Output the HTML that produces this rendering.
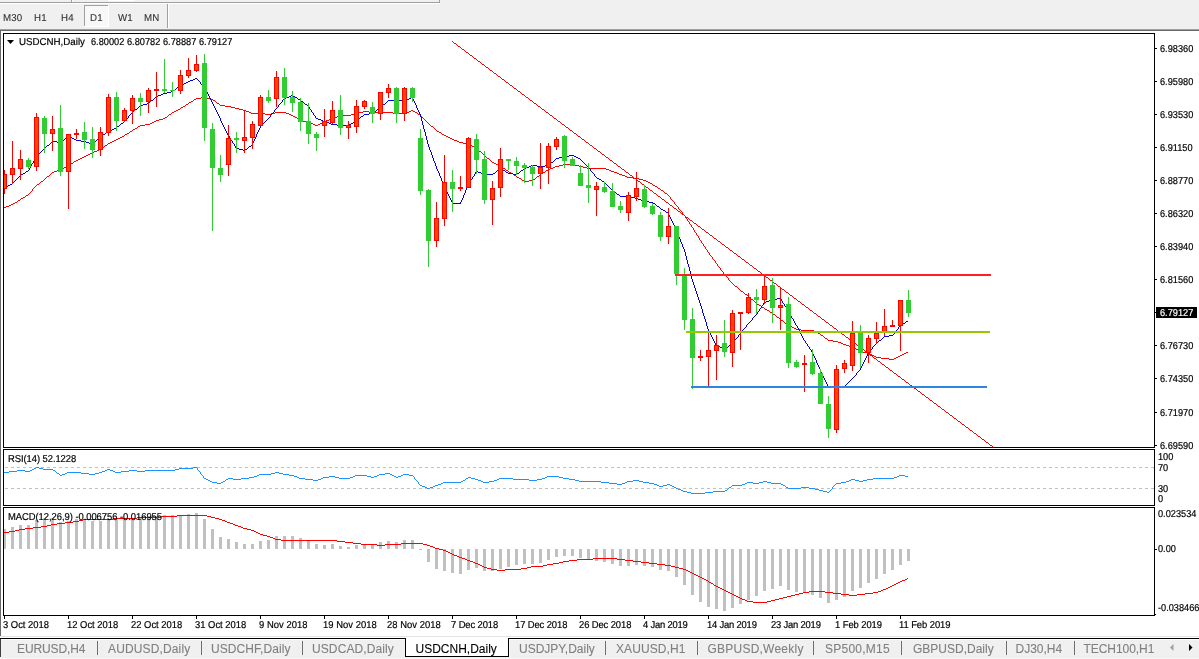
<!DOCTYPE html>
<html><head><meta charset="utf-8"><title>USDCNH,Daily</title>
<style>
html,body{margin:0;padding:0;background:#f0f0f0;}
body{width:1199px;height:659px;position:relative;overflow:hidden;font-family:"Liberation Sans",sans-serif;}
svg{position:absolute;left:0;top:0;display:block;}
.t{position:absolute;white-space:nowrap;-webkit-text-stroke:0.2px currentColor;}
</style></head><body>
<svg width="1199" height="659" viewBox="0 0 1199 659">
<rect x="0" y="0" width="1199" height="659" fill="#f0f0f0"/>
<rect x="0" y="2" width="440" height="1" fill="#a0a0a0"/>
<rect x="0" y="3" width="440" height="1" fill="#ffffff"/>
<rect x="71" y="0" width="1" height="2" fill="#a0a0a0"/><rect x="72" y="0" width="1" height="2" fill="#fff"/>
<rect x="439" y="0" width="1" height="3" fill="#a0a0a0"/>
<rect x="108" y="0" width="27" height="1" fill="#fff"/>
<rect x="84" y="5" width="25" height="22" fill="#f8f8f8"/>
<rect x="84" y="5" width="25" height="1" fill="#a0a0a0"/><rect x="84" y="5" width="1" height="22" fill="#a0a0a0"/>
<rect x="84" y="26" width="25" height="1" fill="#fff"/><rect x="108" y="5" width="1" height="22" fill="#fff"/>
<rect x="167" y="4" width="1" height="24" fill="#a0a0a0"/><rect x="168" y="4" width="1" height="24" fill="#fff"/>
<rect x="0" y="29" width="1199" height="1" fill="#a0a0a0"/>
<rect x="0" y="30" width="1199" height="1" fill="#696969"/>
<rect x="0" y="31" width="1199" height="606" fill="#ffffff"/>
<rect x="0" y="30" width="1" height="607" fill="#696969"/>
<rect x="0" y="636" width="1199" height="1" fill="#e3e3e3"/>
<rect x="0" y="637" width="1199" height="1" fill="#ffffff"/>
<rect x="1" y="639" width="1198" height="1" fill="#ffffff"/>
<rect x="0" y="658" width="1199" height="1" fill="#f7f7f7"/>
<rect x="0" y="638" width="1199" height="1" fill="#000"/>
<rect x="0" y="639" width="1" height="18" fill="#404040"/>
<rect x="405" y="637" width="104" height="20" fill="#fff"/><rect x="509" y="639" width="1" height="18" fill="#fafafa"/>
<rect x="405" y="638" width="1" height="19" fill="#000"/><rect x="508" y="638" width="1" height="19" fill="#000"/><rect x="405" y="656" width="104" height="1" fill="#000"/>
<rect x="97" y="641" width="1" height="14" fill="#6e6e6e"/>
<rect x="201" y="641" width="1" height="14" fill="#6e6e6e"/>
<rect x="302" y="641" width="1" height="14" fill="#6e6e6e"/>
<rect x="605" y="641" width="1" height="14" fill="#6e6e6e"/>
<rect x="697" y="641" width="1" height="14" fill="#6e6e6e"/>
<rect x="813" y="641" width="1" height="14" fill="#6e6e6e"/>
<rect x="901" y="641" width="1" height="14" fill="#6e6e6e"/>
<rect x="1006" y="641" width="1" height="14" fill="#6e6e6e"/>
<rect x="1074" y="641" width="1" height="14" fill="#6e6e6e"/>
<path d="M1170 647.5 L1173.5 644 L1173.5 651 Z" fill="#a0a0a0"/>
<path d="M1192.5 647.5 L1189 644 L1189 651 Z" fill="#000"/>
<rect x="3" y="33" width="1152" height="1" fill="#000"/>
<rect x="3" y="447" width="1152" height="1" fill="#000"/>
<rect x="3" y="33" width="1" height="415" fill="#000"/>
<rect x="1154" y="33" width="1" height="415" fill="#000"/>
<rect x="3" y="449" width="1152" height="1" fill="#000"/>
<rect x="3" y="505" width="1152" height="1" fill="#000"/>
<rect x="3" y="449" width="1" height="57" fill="#000"/>
<rect x="1154" y="449" width="1" height="57" fill="#000"/>
<rect x="3" y="507" width="1152" height="1" fill="#000"/>
<rect x="3" y="615" width="1152" height="1" fill="#000"/>
<rect x="3" y="507" width="1" height="109" fill="#000"/>
<rect x="1154" y="507" width="1" height="109" fill="#000"/>
<rect x="1155" y="48" width="2" height="1" fill="#000"/>
<rect x="1155" y="81" width="2" height="1" fill="#000"/>
<rect x="1155" y="114" width="2" height="1" fill="#000"/>
<rect x="1155" y="147" width="2" height="1" fill="#000"/>
<rect x="1155" y="180" width="2" height="1" fill="#000"/>
<rect x="1155" y="213" width="2" height="1" fill="#000"/>
<rect x="1155" y="246" width="2" height="1" fill="#000"/>
<rect x="1155" y="279" width="2" height="1" fill="#000"/>
<rect x="1155" y="312" width="2" height="1" fill="#000"/>
<rect x="1155" y="345" width="2" height="1" fill="#000"/>
<rect x="1155" y="378" width="2" height="1" fill="#000"/>
<rect x="1155" y="412" width="2" height="1" fill="#000"/>
<rect x="1155" y="445" width="2" height="1" fill="#000"/>
<rect x="1155" y="549" width="2" height="1" fill="#000"/>
<rect x="1155" y="614" width="1" height="1" fill="#000"/>
<rect x="1156" y="307" width="41" height="11" fill="#000"/>
<rect x="4" y="615" width="1" height="4" fill="#000"/>
<rect x="68" y="615" width="1" height="4" fill="#000"/>
<rect x="132" y="615" width="1" height="4" fill="#000"/>
<rect x="196" y="615" width="1" height="4" fill="#000"/>
<rect x="260" y="615" width="1" height="4" fill="#000"/>
<rect x="324" y="615" width="1" height="4" fill="#000"/>
<rect x="388" y="615" width="1" height="4" fill="#000"/>
<rect x="452" y="615" width="1" height="4" fill="#000"/>
<rect x="516" y="615" width="1" height="4" fill="#000"/>
<rect x="580" y="615" width="1" height="4" fill="#000"/>
<rect x="644" y="615" width="1" height="4" fill="#000"/>
<rect x="708" y="615" width="1" height="4" fill="#000"/>
<rect x="772" y="615" width="1" height="4" fill="#000"/>
<rect x="836" y="615" width="1" height="4" fill="#000"/>
<rect x="900" y="615" width="1" height="4" fill="#000"/>
<defs><clipPath id="cm"><rect x="4" y="34" width="1150" height="413"/></clipPath><clipPath id="cr"><rect x="4" y="450" width="1150" height="55"/></clipPath><clipPath id="cd"><rect x="4" y="508" width="1150" height="107"/></clipPath></defs>
<g clip-path="url(#cm)" shape-rendering="crispEdges">
<path d="M860 351.5h3M74 161.5h2M851 347.5h3M251 113.5h14M271 113.5h4M286 113.5h3M355 113.5h4M393 113.5h13M159 119.5h4M298 119.5h2M329 119.5h2M522 180.5h2M529 180.5h4M643 180.5h3M140 125.5h5M315 125.5h3M194 99.5h2M211 99.5h2M777 317.5h2M881 358.5h8M894 358.5h2M69 164.5h2M496 164.5h2M563 164.5h12M172 112.5h2M249 112.5h2M275 112.5h11M359 112.5h4M369 112.5h24M406 112.5h3M415 112.5h2M152 122.5h2M307 122.5h3M322 122.5h2M97 150.5h2M856 349.5h2M846 345.5h3M174 111.5h2M246 111.5h3M363 111.5h6M409 111.5h2M413 111.5h2M169 114.5h2M265 114.5h6M289 114.5h2M351 114.5h4M418 114.5h2M114 140.5h2M454 140.5h3M519 178.5h2M633 178.5h6M94 151.5h3M479 151.5h2M439 132.5h2M828 340.5h5M492 162.5h2M52 172.5h2M509 172.5h2M543 172.5h2M614 172.5h3M127 133.5h2M4 207.5h2M156 120.5h3M300 120.5h3M326 120.5h3M150 123.5h2M310 123.5h3M320 123.5h2M176 110.5h2M243 110.5h3M411 110.5h2M867 353.5h3M904 353.5h2M66 166.5h2M555 166.5h4M579 166.5h4M661 190.5h2M120 137.5h2M448 137.5h2M874 356.5h2M898 356.5h2M59 169.5h3M548 169.5h2M606 169.5h3M133 129.5h2M794 328.5h2M125 134.5h2M442 134.5h2M71 163.5h2M494 163.5h2M64 167.5h2M501 167.5h2M553 167.5h2M583 167.5h4M62 168.5h2M503 168.5h2M550 168.5h3M587 168.5h19M130 131.5h2M437 131.5h2M796 329.5h5M788 325.5h2M293 116.5h2M337 116.5h2M181 107.5h2M231 107.5h4M110 142.5h2M459 142.5h4M21 198.5h2M108 143.5h2M463 143.5h4M41 181.5h2M524 181.5h5M646 181.5h2M517 177.5h2M627 177.5h6M790 326.5h2M235 108.5h4M833 341.5h5M751 299.5h2M773 314.5h2M792 327.5h2M90 153.5h2M498 165.5h2M559 165.5h4M575 165.5h4M6 206.5h3M201 97.5h6M876 357.5h5M896 357.5h2M765 309.5h2M291 115.5h2M339 115.5h12M511 173.5h2M541 173.5h2M617 173.5h2M533 179.5h2M639 179.5h4M514 175.5h2M622 175.5h3M650 183.5h2M821 335.5h2M472 146.5h2M57 170.5h2M506 170.5h2M546 170.5h2M609 170.5h2M872 355.5h2M900 355.5h2M116 139.5h2M452 139.5h2M54 171.5h3M611 171.5h3M47 176.5h2M537 176.5h2M625 176.5h2M474 147.5h2M112 141.5h2M457 141.5h2M13 203.5h2M80 158.5h2M487 158.5h2M101 148.5h2M178 109.5h2M239 109.5h4M220 105.5h5M154 121.5h2M303 121.5h4M324 121.5h2M467 144.5h3M135 128.5h2M165 117.5h2M295 117.5h2M334 117.5h3M78 159.5h2M26 195.5h2M18 200.5h2M105 145.5h2M470 145.5h2M801 330.5h13M145 124.5h5M313 124.5h2M318 124.5h2M658 188.5h2M23 197.5h2M86 155.5h2M653 185.5h2M196 98.5h5M207 98.5h4M619 174.5h3M735 286.5h2M655 186.5h2M757 304.5h2M767 310.5h2M889 359.5h5M15 202.5h2M816 332.5h2M11 204.5h2M191 101.5h2M843 344.5h3M138 126.5h2M431 126.5h2M213 100.5h2M189 102.5h2M92 152.5h2M665 193.5h2M745 294.5h2M838 342.5h3M759 305.5h2M854 348.5h2M741 291.5h2M118 138.5h2M450 138.5h2M858 350.5h2M849 346.5h2M88 154.5h2M183 106.5h2M225 106.5h6M444 135.5h2M122 136.5h2M446 136.5h2M76 160.5h2M863 352.5h4M906 352.5h2M99 149.5h2M163 118.5h2M331 118.5h3M37 184.5h2M84 156.5h2M770 312.5h2M186 104.5h2M825 338.5h2M870 354.5h2M902 354.5h2M82 157.5h2M9 205.5h2M648 182.5h2M762 307.5h2M785 323.5h2M217 103.5h2M814 331.5h2M818 333.5h2M781 320.5h2M841 343.5h2M491.5 161v1M689.5 222v2M697.5 235v1M171.5 113v1M417.5 113v1M424.5 119v1M43.5 180v1M430.5 125v1M25.5 196v1M669.5 196v1M427.5 122v1M740.5 290v1M478.5 150v1M45.5 178v1M535.5 178v1M129.5 132v1M73.5 162v1M441.5 133v1M729.5 280v1M678.5 207v2M425.5 120v1M699.5 238v2M428.5 123v1M500.5 166v1M32.5 189v2M505.5 169v1M31.5 191v1M663.5 191v1M692.5 227v1M700.5 240v1M703.5 244v2M132.5 130v1M436.5 130v1M435.5 129v1M714.5 260v1M696.5 233v2M17.5 201v1M673.5 201v1M717.5 264v2M167.5 116v1M421.5 116v1M739.5 289v1M718.5 266v1M750.5 298v1M670.5 197v2M728.5 278v2M46.5 177v1M536.5 177v1M180.5 108v1M482.5 153v1M68.5 165v1M677.5 206v1M168.5 115v1M420.5 115v1M51.5 173v1M695.5 232v1M44.5 179v1M521.5 179v1M49.5 175v1M539.5 175v1M39.5 183v1M104.5 146v1M508.5 171v1M545.5 171v1M691.5 225v2M707.5 250v2M516.5 176v1M103.5 147v1M660.5 189v1M674.5 202v2M476.5 148v1M185.5 105v1M426.5 121v1M107.5 144v1M434.5 128v1M422.5 117v1M489.5 159v1M668.5 195v1M769.5 311v1M672.5 200v1M429.5 124v1M33.5 188v1M484.5 155v1M764.5 308v1M783.5 321v1M36.5 185v1M784.5 322v1M50.5 174v1M513.5 174v1M540.5 174v1M698.5 236v2M35.5 186v1M720.5 268v2M721.5 270v1M761.5 306v1M727.5 277v1M679.5 209v1M675.5 204v1M680.5 210v1M215.5 101v1M701.5 241v2M193.5 100v1M216.5 102v1M702.5 243v1M481.5 152v1M705.5 247v2M29.5 193v1M719.5 267v1M779.5 318v1M756.5 303v1M693.5 228v2M709.5 253v2M483.5 154v1M124.5 135v1M490.5 160v1M730.5 281v1M477.5 149v1M34.5 187v1M657.5 187v1M682.5 212v2M30.5 192v1M664.5 192v1M297.5 118v1M423.5 118v1M683.5 214v1M652.5 184v1M704.5 246v1M775.5 315v1M708.5 252v1M485.5 156v1M20.5 199v1M671.5 199v1M219.5 104v1M723.5 272v2M827.5 339v1M486.5 157v1M676.5 205v1M40.5 182v1M737.5 287v1M722.5 271v1M137.5 127v1M433.5 127v1M188.5 103v1M823.5 336v1M711.5 256v1M681.5 211v1M732.5 283v1M685.5 216v2M706.5 249v1M28.5 194v1M667.5 194v1M733.5 284v1M747.5 295v1M710.5 255v1M780.5 319v1M724.5 274v1M725.5 275v1M731.5 282v1M743.5 292v1M684.5 215v1M776.5 316v1M753.5 300v1M754.5 301v1M687.5 219v2M688.5 221v1M712.5 257v2M824.5 337v1M713.5 259v1M738.5 288v1M772.5 313v1M686.5 218v1M694.5 230v2M787.5 324v1M749.5 297v1M820.5 334v1M690.5 224v1M734.5 285v1M715.5 261v2M748.5 296v1M716.5 263v1M744.5 293v1M726.5 276v1M755.5 302v1" fill="none" stroke="#ff0000" stroke-width="1"/>
<path d="M286 97.5h3M295 97.5h2M411 97.5h2M369 113.5h4M777 298.5h4M10 184.5h2M563 156.5h6M574 156.5h2M171 91.5h2M91 144.5h2M147 103.5h2M901 324.5h2M298 99.5h2M406 99.5h3M101 135.5h2M559 157.5h4M576 157.5h2M478 172.5h3M506 172.5h2M331 124.5h6M349 124.5h2M167 92.5h4M321 120.5h2M884 336.5h5M57 142.5h4M86 142.5h3M21 174.5h2M483 174.5h10M513 174.5h4M620 196.5h11M452 203.5h9M653 203.5h2M337 125.5h12M156 96.5h2M289 96.5h2M293 96.5h2M23 173.5h2M481 173.5h2M493 173.5h2M508 173.5h5M517 173.5h2M323 121.5h3M354 121.5h2M769 300.5h2M284 98.5h2M409 98.5h2M641 200.5h2M720 347.5h2M117 126.5h2M906 321.5h2M65 138.5h2M72 138.5h2M599 179.5h2M186 82.5h2M76 140.5h5M602 181.5h2M364 114.5h5M531 165.5h6M545 165.5h4M361 116.5h2M26 171.5h2M476 171.5h2M529 166.5h2M537 166.5h8M828 386.5h5M841 386.5h4M613 191.5h2M657 206.5h2M108 131.5h2M52 141.5h5M61 141.5h2M81 141.5h5M121 123.5h2M329 123.5h2M351 123.5h2M569 155.5h5M597 178.5h2M173 90.5h2M8 185.5h2M718 346.5h2M163 93.5h4M903 323.5h2M103 134.5h2M722 348.5h2M725 348.5h2M551 162.5h2M249 146.5h2M318 119.5h3M357 119.5h2M879 340.5h2M316 118.5h2M497 170.5h2M503 170.5h2M521 170.5h2M140 105.5h3M158 95.5h3M291 95.5h2M643 201.5h6M6 186.5h2M373 112.5h2M766 301.5h3M771 299.5h6M182 84.5h2M526 167.5h3M239 149.5h4M245 149.5h2M501 169.5h2M326 122.5h3M556 158.5h3M578 158.5h2M524 168.5h2M833 387.5h8M301 101.5h2M193 79.5h2M143 104.5h4M305 104.5h2M383 104.5h2M4 187.5h2M151 100.5h2M388 100.5h18M47 145.5h2M89 143.5h2M889 335.5h4M631 197.5h4M70 137.5h2M716 345.5h2M729 345.5h2M161 94.5h2M236 148.5h3M135 109.5h2M377 109.5h2M649 202.5h4M74 139.5h2M177 87.5h2M638 199.5h3M243 150.5h2M764 302.5h2M661 209.5h2M195 78.5h2M112 129.5h2M663 210.5h2M190 80.5h3M68 136.5h2M114 128.5h2M184 83.5h2M110 130.5h2M106 132.5h2M635 198.5h3M188 81.5h2M666 212.5h2M617 194.5h2M180 85.5h2M155.5 97v1M209.5 96v2M131.5 113v1M217.5 112v2M272.5 113v1M313.5 113v2M419.5 112v2M698.5 297v3M820.5 369v3M860.5 368v2M45.5 147v1M235.5 146v2M248.5 147v1M429.5 147v3M670.5 217v2M443.5 183v2M468.5 184v2M606.5 184v1M708.5 329v2M743.5 329v1M798.5 328v2M897.5 329v1M36.5 156v1M432.5 155v3M206.5 90v2M707.5 326v3M744.5 328v1M898.5 327v2M814.5 356v2M866.5 356v2M691.5 275v4M49.5 144v1M234.5 144v2M252.5 143v2M428.5 144v3M701.5 306v3M760.5 308v1M786.5 307v2M212.5 102v2M280.5 103v1M304.5 103v1M385.5 103v1M415.5 103v2M706.5 322v4M747.5 324v1M795.5 323v2M153.5 99v1M210.5 98v2M283.5 99v1M413.5 99v2M228.5 135v1M256.5 134v3M425.5 132v4M35.5 157v2M25.5 172v1M438.5 171v2M475.5 172v2M495.5 172v1M519.5 172v1M592.5 172v1M811.5 350v2M870.5 350v1M120.5 124v1M222.5 123v2M262.5 124v1M422.5 121v4M822.5 374v2M855.5 375v1M715.5 343v2M731.5 344v1M807.5 344v2M875.5 344v1M207.5 92v2M824.5 378v2M852.5 378v1M125.5 120v1M220.5 118v3M266.5 120v1M356.5 120v1M421.5 117v4M711.5 335v2M738.5 335v2M802.5 336v2M702.5 309v4M759.5 309v2M787.5 309v2M51.5 142v1M94.5 142v1M232.5 141v2M253.5 141v2M427.5 140v4M714.5 341v2M734.5 340v2M805.5 341v2M878.5 341v1M439.5 173v3M474.5 174v2M594.5 174v2M449.5 196v2M463.5 195v3M746.5 325v2M796.5 325v1M900.5 325v1M119.5 125v1M223.5 125v2M261.5 125v1M423.5 125v4M593.5 173v1M694.5 285v3M124.5 121v1M221.5 121v2M265.5 121v1M699.5 300v3M781.5 299v2M703.5 313v3M757.5 312v2M789.5 312v2M154.5 98v1M297.5 98v1M412.5 98v1M451.5 200v2M461.5 200v2M727.5 347v1M809.5 347v2M872.5 347v2M260.5 126v2M705.5 319v3M750.5 321v1M794.5 321v2M821.5 372v2M857.5 372v1M34.5 159v2M433.5 158v3M554.5 160v1M581.5 160v1M98.5 138v1M230.5 138v2M255.5 137v2M426.5 136v4M16.5 179v1M441.5 178v3M471.5 179v1M688.5 264v3M137.5 108v1M215.5 108v2M276.5 108v1M309.5 107v2M379.5 108v1M417.5 108v2M200.5 82v2M133.5 111v1M216.5 110v2M274.5 110v2M311.5 110v2M375.5 111v1M418.5 110v2M20.5 175v1M63.5 140v1M96.5 140v1M231.5 140v1M254.5 139v2M14.5 181v1M442.5 181v2M470.5 180v2M130.5 114v1M218.5 114v2M271.5 114v1M420.5 114v3M31.5 164v2M435.5 163v3M586.5 165v1M128.5 116v2M219.5 116v2M270.5 115v2M315.5 116v2M32.5 163v1M550.5 163v1M584.5 163v1M684.5 249v3M496.5 171v1M505.5 171v1M520.5 171v1M591.5 171v1M709.5 331v2M742.5 330v2M799.5 330v2M895.5 331v1M30.5 166v2M436.5 166v3M587.5 166v1M446.5 190v2M465.5 190v3M149.5 102v1M281.5 102v1M303.5 102v1M386.5 102v1M414.5 101v2M13.5 182v1M469.5 182v2M604.5 182v1M687.5 260v4M226.5 131v2M258.5 130v2M424.5 129v3M95.5 141v1M758.5 311v1M788.5 311v1M724.5 349v1M810.5 349v1M871.5 349v1M659.5 207v1M896.5 330v1M680.5 239v3M263.5 123v1M12.5 183v1M605.5 183v1M549.5 164v1M585.5 164v1M37.5 155v1M17.5 178v1M472.5 177v2M700.5 303v3M762.5 305v1M784.5 304v2M139.5 106v1M214.5 106v2M278.5 105v2M308.5 106v1M381.5 106v1M416.5 105v3M444.5 185v3M607.5 185v1M728.5 346v1M808.5 346v1M873.5 346v1M704.5 316v3M752.5 318v2M792.5 318v1M761.5 306v2M748.5 323v1M227.5 133v2M753.5 317v1M791.5 316v2M33.5 161v2M434.5 161v2M583.5 162v1M46.5 146v1M40.5 152v1M431.5 152v3M785.5 306v1M126.5 119v1M267.5 119v1M713.5 339v2M804.5 340v1M127.5 118v1M268.5 118v1M359.5 118v1M28.5 170v1M437.5 169v2M590.5 169v2M213.5 104v2M307.5 105v1M382.5 105v1M208.5 94v2M467.5 186v2M608.5 186v1M132.5 112v1M273.5 112v1M312.5 112v1M782.5 301v2M825.5 380v2M850.5 380v1M201.5 84v1M588.5 167v1M672.5 221v2M697.5 294v3M175.5 89v1M205.5 88v2M43.5 149v1M669.5 215v2M29.5 168v2M499.5 169v1M523.5 169v1M179.5 86v1M203.5 86v1M813.5 354v2M867.5 354v2M123.5 122v1M264.5 122v1M353.5 122v1M690.5 271v4M447.5 192v2M615.5 192v1M500.5 168v1M589.5 168v1M105.5 133v1M257.5 132v2M686.5 256v4M553.5 161v1M582.5 161v1M679.5 237v2M150.5 101v1M211.5 100v2M282.5 100v2M387.5 101v1M197.5 79v1M279.5 104v1M39.5 153v1M763.5 303v2M783.5 303v1M754.5 316v1M609.5 187v1M300.5 100v1M251.5 145v1M859.5 370v1M693.5 282v3M50.5 143v1M93.5 143v1M233.5 143v1M116.5 127v1M224.5 127v2M801.5 334v2M683.5 247v2M755.5 315v1M790.5 314v2M269.5 117v1M360.5 117v1M18.5 177v1M440.5 176v2M596.5 177v1M15.5 180v1M601.5 180v1M710.5 333v2M740.5 333v1M800.5 332v2M894.5 332v2M67.5 137v1M99.5 137v1M229.5 136v2M812.5 352v2M868.5 352v2M874.5 345v1M823.5 376v2M854.5 376v1M797.5 326v2M899.5 326v1M44.5 148v1M247.5 148v1M827.5 384v2M845.5 385v1M275.5 109v1M310.5 109v1M678.5 234v3M676.5 229v3M176.5 88v1M689.5 267v4M745.5 327v1M452.5 202v1M460.5 202v1M815.5 358v2M865.5 358v2M682.5 244v3M741.5 332v1M733.5 342v1M877.5 342v1M735.5 339v1M803.5 338v2M881.5 339v1M134.5 110v1M376.5 110v1M129.5 115v1M314.5 115v1M363.5 115v1M19.5 176v1M473.5 176v1M595.5 176v1M668.5 213v2M696.5 291v3M64.5 139v1M97.5 139v1M712.5 337v2M736.5 338v1M882.5 338v1M464.5 193v2M616.5 193v1M204.5 87v1M450.5 198v2M462.5 198v2M42.5 150v1M430.5 150v2M756.5 314v1M749.5 322v1M905.5 322v1M869.5 351v1M41.5 151v1M819.5 367v2M448.5 194v2M619.5 195v1M816.5 360v3M863.5 362v2M793.5 319v2M225.5 129v2M259.5 128v2M660.5 208v1M864.5 360v2M849.5 381v1M445.5 188v2M466.5 188v2M611.5 189v1M692.5 279v3M675.5 227v2M198.5 80v1M861.5 366v2M555.5 159v1M580.5 159v1M739.5 334v1M893.5 334v1M100.5 136v1M677.5 232v2M685.5 252v4M610.5 188v1M818.5 365v2M737.5 337v1M883.5 337v1M138.5 107v1M277.5 107v1M380.5 107v1M732.5 343v1M806.5 343v1M876.5 343v1M674.5 225v2M826.5 382v2M847.5 383v1M656.5 205v1M695.5 288v3M856.5 373v2M655.5 204v1M817.5 363v2M862.5 364v2M751.5 320v1M681.5 242v2M199.5 81v1M665.5 211v1M673.5 223v2M851.5 379v1M612.5 190v1M202.5 85v1M846.5 384v1M858.5 371v1M38.5 154v1M853.5 377v1M848.5 382v1M671.5 219v2" fill="none" stroke="#0000dd" stroke-width="1"/>
<path d="M730 250.5h2M558 121.5h2M570 130.5h2M982 439.5h2M934 403.5h2M762 274.5h2M774 283.5h2M602 154.5h2M978 436.5h2M806 307.5h2M826 322.5h2M838 331.5h2M618 166.5h2M870 355.5h2M822 319.5h2M650 190.5h2M918 391.5h2M930 400.5h2M710 235.5h2M538 106.5h2M962 424.5h2M458 46.5h2M882 364.5h2M662 199.5h2M490 70.5h2M502 79.5h2M726 247.5h2M554 118.5h2M566 127.5h2M758 271.5h2M770 280.5h2M598 151.5h2M550 115.5h2M802 304.5h2M974 433.5h2M614 163.5h2M454 43.5h2M866 352.5h2M818 316.5h2M646 187.5h2M658 196.5h2M486 67.5h2M850 340.5h2M862 349.5h2M690 220.5h2M914 388.5h2M926 397.5h2M754 268.5h2M706 232.5h2M534 103.5h2M958 421.5h2M738 256.5h2M750 265.5h2M814 313.5h2M498 76.5h2M846 337.5h2M766 277.5h2M594 148.5h2M546 112.5h2M798 301.5h2M970 430.5h2M578 136.5h2M590 145.5h2M642 184.5h2M654 193.5h2M482 64.5h2M686 217.5h2M858 346.5h2M466 52.5h2M478 61.5h2M890 370.5h2M702 229.5h2M530 100.5h2M542 109.5h2M954 418.5h2M966 427.5h2M906 382.5h2M734 253.5h2M746 262.5h2M574 133.5h2M950 415.5h2M778 286.5h2M810 310.5h2M842 334.5h2M854 343.5h2M526 97.5h2M794 298.5h2M634 178.5h2M938 406.5h2M666 202.5h2M698 226.5h2M902 379.5h2M586 142.5h2M790 295.5h2M682 214.5h2M694 223.5h2M462 49.5h2M474 58.5h2M886 367.5h2M994 448.5h2M678 211.5h2M506 82.5h2M742 259.5h2M582 139.5h2M522 94.5h2M946 412.5h2M786 292.5h2M630 175.5h2M834 328.5h2M674 208.5h2M878 361.5h2M898 376.5h2M518 91.5h2M942 409.5h2M722 244.5h2M470 55.5h2M990 445.5h2M610 160.5h2M782 289.5h2M562 124.5h2M910 385.5h2M626 172.5h2M830 325.5h2M670 205.5h2M874 358.5h2M894 373.5h2M494 73.5h2M514 88.5h2M718 241.5h2M922 394.5h2M986 442.5h2M606 157.5h2M638 181.5h2M510 85.5h2M714 238.5h2M622 169.5h2M589.5 144v1M496.5 74v1M920.5 392v1M793.5 297v1M700.5 227v1M477.5 60v1M540.5 107v1M744.5 260v1M541.5 108v1M745.5 261v1M808.5 308v1M648.5 188v1M588.5 143v1M885.5 366v1M632.5 176v1M652.5 191v1M856.5 344v1M633.5 177v1M696.5 224v1M473.5 57v1M476.5 59v1M837.5 330v1M900.5 377v1M520.5 92v1M901.5 378v1M964.5 425v1M681.5 213v1M521.5 93v1M584.5 140v1M945.5 411v1M725.5 246v1M788.5 293v1M565.5 126v1M789.5 294v1M852.5 341v1M536.5 104v1M993.5 447v1M833.5 327v1M740.5 257v1M613.5 162v1M804.5 305v1M677.5 210v1M881.5 363v1M944.5 410v1M628.5 173v1M692.5 221v1M989.5 444v1M472.5 56v1M673.5 207v1M896.5 374v1M769.5 279v1M736.5 254v1M453.5 42v1M516.5 89v1M517.5 90v1M580.5 137v1M941.5 408v1M721.5 243v1M784.5 290v1M561.5 123v1M925.5 396v1M988.5 443v1M765.5 276v1M785.5 291v1M828.5 323v1M468.5 53v1M829.5 324v1M892.5 371v1M609.5 159v1M672.5 206v1M876.5 359v1M653.5 192v1M877.5 360v1M940.5 407v1M717.5 240v1M624.5 170v1M497.5 75v1M921.5 393v1M764.5 275v1M669.5 204v1M732.5 251v1M512.5 86v1M969.5 429v1M809.5 309v1M716.5 239v1M780.5 287v1M557.5 120v1M620.5 167v1M560.5 122v1M984.5 440v1M761.5 273v1M824.5 320v1M604.5 155v1M605.5 156v1M668.5 203v1M872.5 356v1M649.5 189v1M712.5 236v1M492.5 71v1M853.5 342v1M916.5 389v1M936.5 404v1M493.5 72v1M556.5 119v1M917.5 390v1M980.5 437v1M757.5 270v1M697.5 225v1M760.5 272v1M537.5 105v1M741.5 258v1M508.5 83v1M965.5 426v1M932.5 401v1M805.5 306v1M585.5 141v1M552.5 116v1M629.5 174v1M820.5 317v1M693.5 222v1M600.5 152v1M897.5 375v1M644.5 185v1M664.5 200v1M961.5 423v1M868.5 353v1M645.5 186v1M708.5 233v1M488.5 68v1M849.5 339v1M912.5 386v1M469.5 54v1M489.5 69v1M532.5 101v1M913.5 387v1M976.5 434v1M756.5 269v1M533.5 102v1M596.5 149v1M957.5 420v1M960.5 422v1M737.5 255v1M800.5 302v1M577.5 135v1M801.5 303v1M864.5 350v1M581.5 138v1M548.5 113v1M845.5 336v1M848.5 338v1M625.5 171v1M816.5 314v1M689.5 219v1M893.5 372v1M956.5 419v1M640.5 182v1M513.5 87v1M937.5 405v1M704.5 230v1M484.5 65v1M908.5 383v1M781.5 288v1M688.5 218v1M465.5 51v1M528.5 98v1M985.5 441v1M752.5 266v1M529.5 99v1M592.5 146v1M733.5 252v1M796.5 299v1M573.5 132v1M576.5 134v1M873.5 357v1M480.5 62v1M841.5 333v1M844.5 335v1M621.5 168v1M684.5 215v1M461.5 48v1M464.5 50v1M825.5 321v1M888.5 368v1M665.5 201v1M889.5 369v1M952.5 416v1M729.5 249v1M636.5 179v1M509.5 84v1M933.5 402v1M713.5 237v1M776.5 284v1M777.5 285v1M840.5 332v1M524.5 95v1M981.5 438v1M821.5 318v1M728.5 248v1M601.5 153v1M792.5 296v1M569.5 129v1M572.5 131v1M996.5 449v1M869.5 354v1M836.5 329v1M553.5 117v1M616.5 164v1M617.5 165v1M680.5 212v1M457.5 45v1M460.5 47v1M884.5 365v1M661.5 198v1M724.5 245v1M504.5 80v1M928.5 398v1M948.5 413v1M505.5 81v1M568.5 128v1M929.5 399v1M992.5 446v1M709.5 234v1M772.5 281v1M549.5 114v1M456.5 44v1M753.5 267v1M773.5 282v1M977.5 435v1M817.5 315v1M597.5 150v1M660.5 197v1M641.5 183v1M865.5 351v1M832.5 326v1M705.5 231v1M612.5 161v1M485.5 66v1M452.5 41v1M909.5 384v1M676.5 209v1M973.5 432v1M880.5 362v1M657.5 195v1M720.5 242v1M500.5 77v1M861.5 348v1M924.5 395v1M481.5 63v1M501.5 78v1M544.5 110v1M564.5 125v1M768.5 278v1M545.5 111v1M608.5 158v1M972.5 431v1M749.5 264v1M812.5 311v1M953.5 417v1M813.5 312v1M593.5 147v1M656.5 194v1M857.5 345v1M797.5 300v1M860.5 347v1M637.5 180v1M904.5 380v1M701.5 228v1M905.5 381v1M968.5 428v1M685.5 216v1M748.5 263v1M525.5 96v1M949.5 414v1" fill="none" stroke="#ff0000" stroke-width="1"/>
<rect x="4" y="170" width="1" height="24" fill="#ff0000"/>
<rect x="2" y="174" width="5" height="15" fill="#ff0000"/>
<rect x="3" y="175" width="3" height="13" fill="#ff4500"/>
<rect x="12" y="141" width="1" height="43" fill="#ff0000"/>
<rect x="10" y="168" width="5" height="7" fill="#ff0000"/>
<rect x="11" y="169" width="3" height="5" fill="#ff4500"/>
<rect x="20" y="150" width="1" height="30" fill="#ff0000"/>
<rect x="18" y="159" width="5" height="10" fill="#ff0000"/>
<rect x="19" y="160" width="3" height="8" fill="#ff4500"/>
<rect x="28" y="158" width="1" height="11" fill="#32cd32"/>
<rect x="26" y="160" width="5" height="7" fill="#32cd32"/>
<rect x="36" y="113" width="1" height="58" fill="#ff0000"/>
<rect x="34" y="117" width="5" height="50" fill="#ff0000"/>
<rect x="35" y="118" width="3" height="48" fill="#ff4500"/>
<rect x="44" y="116" width="1" height="37" fill="#32cd32"/>
<rect x="42" y="118" width="5" height="16" fill="#32cd32"/>
<rect x="52" y="116" width="1" height="35" fill="#ff0000"/>
<rect x="50" y="129" width="5" height="5" fill="#ff0000"/>
<rect x="51" y="130" width="3" height="3" fill="#ff4500"/>
<rect x="60" y="105" width="1" height="71" fill="#32cd32"/>
<rect x="58" y="128" width="5" height="44" fill="#32cd32"/>
<rect x="68" y="134" width="1" height="75" fill="#ff0000"/>
<rect x="66" y="134" width="5" height="38" fill="#ff0000"/>
<rect x="67" y="135" width="3" height="36" fill="#ff4500"/>
<rect x="76" y="129" width="1" height="10" fill="#ff0000"/>
<rect x="74" y="133" width="5" height="2" fill="#ff0000"/>
<rect x="84" y="122" width="1" height="27" fill="#32cd32"/>
<rect x="82" y="132" width="5" height="8" fill="#32cd32"/>
<rect x="92" y="127" width="1" height="31" fill="#32cd32"/>
<rect x="90" y="139" width="5" height="11" fill="#32cd32"/>
<rect x="100" y="127" width="1" height="29" fill="#ff0000"/>
<rect x="98" y="132" width="5" height="18" fill="#ff0000"/>
<rect x="99" y="133" width="3" height="16" fill="#ff4500"/>
<rect x="108" y="94" width="1" height="42" fill="#ff0000"/>
<rect x="106" y="97" width="5" height="36" fill="#ff0000"/>
<rect x="107" y="98" width="3" height="34" fill="#ff4500"/>
<rect x="116" y="92" width="1" height="39" fill="#32cd32"/>
<rect x="114" y="97" width="5" height="24" fill="#32cd32"/>
<rect x="124" y="108" width="1" height="14" fill="#ff0000"/>
<rect x="122" y="110" width="5" height="11" fill="#ff0000"/>
<rect x="123" y="111" width="3" height="9" fill="#ff4500"/>
<rect x="132" y="95" width="1" height="29" fill="#ff0000"/>
<rect x="130" y="98" width="5" height="13" fill="#ff0000"/>
<rect x="131" y="99" width="3" height="11" fill="#ff4500"/>
<rect x="140" y="93" width="1" height="23" fill="#32cd32"/>
<rect x="138" y="98" width="5" height="4" fill="#32cd32"/>
<rect x="148" y="88" width="1" height="25" fill="#ff0000"/>
<rect x="146" y="90" width="5" height="12" fill="#ff0000"/>
<rect x="147" y="91" width="3" height="10" fill="#ff4500"/>
<rect x="156" y="72" width="1" height="35" fill="#ff0000"/>
<rect x="154" y="89" width="5" height="2" fill="#ff0000"/>
<rect x="164" y="59" width="1" height="34" fill="#32cd32"/>
<rect x="162" y="89" width="5" height="2" fill="#32cd32"/>
<rect x="172" y="82" width="1" height="15" fill="#32cd32"/>
<rect x="170" y="90" width="5" height="1" fill="#32cd32"/>
<rect x="180" y="70" width="1" height="24" fill="#ff0000"/>
<rect x="178" y="75" width="5" height="16" fill="#ff0000"/>
<rect x="179" y="76" width="3" height="14" fill="#ff4500"/>
<rect x="188" y="58" width="1" height="20" fill="#ff0000"/>
<rect x="186" y="70" width="5" height="6" fill="#ff0000"/>
<rect x="187" y="71" width="3" height="4" fill="#ff4500"/>
<rect x="196" y="55" width="1" height="17" fill="#ff0000"/>
<rect x="194" y="64" width="5" height="7" fill="#ff0000"/>
<rect x="195" y="65" width="3" height="5" fill="#ff4500"/>
<rect x="204" y="54" width="1" height="87" fill="#32cd32"/>
<rect x="202" y="63" width="5" height="65" fill="#32cd32"/>
<rect x="212" y="123" width="1" height="108" fill="#32cd32"/>
<rect x="210" y="129" width="5" height="39" fill="#32cd32"/>
<rect x="220" y="155" width="1" height="27" fill="#32cd32"/>
<rect x="218" y="168" width="5" height="7" fill="#32cd32"/>
<rect x="228" y="125" width="1" height="51" fill="#ff0000"/>
<rect x="226" y="138" width="5" height="27" fill="#ff0000"/>
<rect x="227" y="139" width="3" height="25" fill="#ff4500"/>
<rect x="236" y="132" width="1" height="21" fill="#32cd32"/>
<rect x="234" y="138" width="5" height="2" fill="#32cd32"/>
<rect x="244" y="110" width="1" height="43" fill="#ff0000"/>
<rect x="242" y="137" width="5" height="4" fill="#ff0000"/>
<rect x="243" y="138" width="3" height="2" fill="#ff4500"/>
<rect x="252" y="121" width="1" height="28" fill="#ff0000"/>
<rect x="250" y="124" width="5" height="14" fill="#ff0000"/>
<rect x="251" y="125" width="3" height="12" fill="#ff4500"/>
<rect x="260" y="95" width="1" height="31" fill="#ff0000"/>
<rect x="258" y="97" width="5" height="29" fill="#ff0000"/>
<rect x="259" y="98" width="3" height="27" fill="#ff4500"/>
<rect x="268" y="90" width="1" height="13" fill="#32cd32"/>
<rect x="266" y="97" width="5" height="4" fill="#32cd32"/>
<rect x="276" y="71" width="1" height="36" fill="#ff0000"/>
<rect x="274" y="77" width="5" height="22" fill="#ff0000"/>
<rect x="275" y="78" width="3" height="20" fill="#ff4500"/>
<rect x="284" y="68" width="1" height="37" fill="#32cd32"/>
<rect x="282" y="77" width="5" height="21" fill="#32cd32"/>
<rect x="292" y="91" width="1" height="21" fill="#32cd32"/>
<rect x="290" y="97" width="5" height="6" fill="#32cd32"/>
<rect x="300" y="98" width="1" height="33" fill="#32cd32"/>
<rect x="298" y="102" width="5" height="20" fill="#32cd32"/>
<rect x="308" y="103" width="1" height="41" fill="#32cd32"/>
<rect x="306" y="121" width="5" height="13" fill="#32cd32"/>
<rect x="316" y="132" width="1" height="19" fill="#32cd32"/>
<rect x="314" y="134" width="5" height="4" fill="#32cd32"/>
<rect x="324" y="109" width="1" height="28" fill="#ff0000"/>
<rect x="322" y="121" width="5" height="5" fill="#ff0000"/>
<rect x="323" y="122" width="3" height="3" fill="#ff4500"/>
<rect x="332" y="101" width="1" height="23" fill="#ff0000"/>
<rect x="330" y="110" width="5" height="13" fill="#ff0000"/>
<rect x="331" y="111" width="3" height="11" fill="#ff4500"/>
<rect x="340" y="95" width="1" height="40" fill="#32cd32"/>
<rect x="338" y="110" width="5" height="18" fill="#32cd32"/>
<rect x="348" y="121" width="1" height="18" fill="#ff0000"/>
<rect x="346" y="125" width="5" height="3" fill="#ff0000"/>
<rect x="347" y="126" width="3" height="1" fill="#ff4500"/>
<rect x="356" y="100" width="1" height="33" fill="#ff0000"/>
<rect x="354" y="106" width="5" height="21" fill="#ff0000"/>
<rect x="355" y="107" width="3" height="19" fill="#ff4500"/>
<rect x="364" y="100" width="1" height="9" fill="#ff0000"/>
<rect x="362" y="101" width="5" height="6" fill="#ff0000"/>
<rect x="363" y="102" width="3" height="4" fill="#ff4500"/>
<rect x="372" y="102" width="1" height="21" fill="#32cd32"/>
<rect x="370" y="107" width="5" height="7" fill="#32cd32"/>
<rect x="380" y="92" width="1" height="28" fill="#ff0000"/>
<rect x="378" y="92" width="5" height="22" fill="#ff0000"/>
<rect x="379" y="93" width="3" height="20" fill="#ff4500"/>
<rect x="388" y="84" width="1" height="14" fill="#ff0000"/>
<rect x="386" y="88" width="5" height="5" fill="#ff0000"/>
<rect x="387" y="89" width="3" height="3" fill="#ff4500"/>
<rect x="396" y="87" width="1" height="36" fill="#32cd32"/>
<rect x="394" y="88" width="5" height="26" fill="#32cd32"/>
<rect x="404" y="87" width="1" height="34" fill="#ff0000"/>
<rect x="402" y="88" width="5" height="26" fill="#ff0000"/>
<rect x="403" y="89" width="3" height="24" fill="#ff4500"/>
<rect x="412" y="87" width="1" height="15" fill="#32cd32"/>
<rect x="410" y="88" width="5" height="10" fill="#32cd32"/>
<rect x="420" y="129" width="1" height="66" fill="#32cd32"/>
<rect x="418" y="138" width="5" height="53" fill="#32cd32"/>
<rect x="428" y="189" width="1" height="78" fill="#32cd32"/>
<rect x="426" y="190" width="5" height="51" fill="#32cd32"/>
<rect x="436" y="202" width="1" height="45" fill="#ff0000"/>
<rect x="434" y="218" width="5" height="23" fill="#ff0000"/>
<rect x="435" y="219" width="3" height="21" fill="#ff4500"/>
<rect x="444" y="155" width="1" height="71" fill="#ff0000"/>
<rect x="442" y="182" width="5" height="37" fill="#ff0000"/>
<rect x="443" y="183" width="3" height="35" fill="#ff4500"/>
<rect x="452" y="170" width="1" height="42" fill="#32cd32"/>
<rect x="450" y="182" width="5" height="7" fill="#32cd32"/>
<rect x="460" y="176" width="1" height="15" fill="#ff0000"/>
<rect x="458" y="187" width="5" height="2" fill="#ff0000"/>
<rect x="468" y="137" width="1" height="51" fill="#ff0000"/>
<rect x="466" y="138" width="5" height="50" fill="#ff0000"/>
<rect x="467" y="139" width="3" height="48" fill="#ff4500"/>
<rect x="476" y="134" width="1" height="40" fill="#32cd32"/>
<rect x="474" y="139" width="5" height="21" fill="#32cd32"/>
<rect x="484" y="151" width="1" height="53" fill="#32cd32"/>
<rect x="482" y="159" width="5" height="41" fill="#32cd32"/>
<rect x="492" y="181" width="1" height="44" fill="#ff0000"/>
<rect x="490" y="188" width="5" height="12" fill="#ff0000"/>
<rect x="491" y="189" width="3" height="10" fill="#ff4500"/>
<rect x="500" y="148" width="1" height="49" fill="#ff0000"/>
<rect x="498" y="159" width="5" height="29" fill="#ff0000"/>
<rect x="499" y="160" width="3" height="27" fill="#ff4500"/>
<rect x="508" y="159" width="1" height="11" fill="#32cd32"/>
<rect x="506" y="159" width="5" height="2" fill="#32cd32"/>
<rect x="516" y="157" width="1" height="18" fill="#32cd32"/>
<rect x="514" y="161" width="5" height="5" fill="#32cd32"/>
<rect x="524" y="163" width="1" height="20" fill="#32cd32"/>
<rect x="522" y="165" width="5" height="3" fill="#32cd32"/>
<rect x="532" y="165" width="1" height="21" fill="#32cd32"/>
<rect x="530" y="167" width="5" height="7" fill="#32cd32"/>
<rect x="540" y="143" width="1" height="46" fill="#ff0000"/>
<rect x="538" y="167" width="5" height="7" fill="#ff0000"/>
<rect x="539" y="168" width="3" height="5" fill="#ff4500"/>
<rect x="548" y="143" width="1" height="41" fill="#ff0000"/>
<rect x="546" y="146" width="5" height="22" fill="#ff0000"/>
<rect x="547" y="147" width="3" height="20" fill="#ff4500"/>
<rect x="556" y="137" width="1" height="13" fill="#ff0000"/>
<rect x="554" y="139" width="5" height="8" fill="#ff0000"/>
<rect x="555" y="140" width="3" height="6" fill="#ff4500"/>
<rect x="564" y="135" width="1" height="33" fill="#32cd32"/>
<rect x="562" y="136" width="5" height="25" fill="#32cd32"/>
<rect x="572" y="157" width="1" height="9" fill="#32cd32"/>
<rect x="570" y="159" width="5" height="7" fill="#32cd32"/>
<rect x="580" y="165" width="1" height="21" fill="#32cd32"/>
<rect x="578" y="173" width="5" height="13" fill="#32cd32"/>
<rect x="588" y="163" width="1" height="40" fill="#32cd32"/>
<rect x="586" y="185" width="5" height="3" fill="#32cd32"/>
<rect x="596" y="182" width="1" height="34" fill="#ff0000"/>
<rect x="594" y="186" width="5" height="4" fill="#ff0000"/>
<rect x="595" y="187" width="3" height="2" fill="#ff4500"/>
<rect x="604" y="182" width="1" height="11" fill="#32cd32"/>
<rect x="602" y="187" width="5" height="5" fill="#32cd32"/>
<rect x="612" y="183" width="1" height="24" fill="#32cd32"/>
<rect x="610" y="191" width="5" height="16" fill="#32cd32"/>
<rect x="620" y="201" width="1" height="12" fill="#32cd32"/>
<rect x="618" y="206" width="5" height="4" fill="#32cd32"/>
<rect x="628" y="192" width="1" height="29" fill="#ff0000"/>
<rect x="626" y="195" width="5" height="18" fill="#ff0000"/>
<rect x="627" y="196" width="3" height="16" fill="#ff4500"/>
<rect x="636" y="172" width="1" height="29" fill="#ff0000"/>
<rect x="634" y="188" width="5" height="9" fill="#ff0000"/>
<rect x="635" y="189" width="3" height="7" fill="#ff4500"/>
<rect x="644" y="185" width="1" height="23" fill="#32cd32"/>
<rect x="642" y="189" width="5" height="18" fill="#32cd32"/>
<rect x="652" y="203" width="1" height="12" fill="#32cd32"/>
<rect x="650" y="206" width="5" height="8" fill="#32cd32"/>
<rect x="660" y="212" width="1" height="29" fill="#32cd32"/>
<rect x="658" y="215" width="5" height="22" fill="#32cd32"/>
<rect x="668" y="208" width="1" height="36" fill="#ff0000"/>
<rect x="666" y="226" width="5" height="11" fill="#ff0000"/>
<rect x="667" y="227" width="3" height="9" fill="#ff4500"/>
<rect x="676" y="226" width="1" height="59" fill="#32cd32"/>
<rect x="674" y="226" width="5" height="48" fill="#32cd32"/>
<rect x="684" y="268" width="1" height="62" fill="#32cd32"/>
<rect x="682" y="275" width="5" height="45" fill="#32cd32"/>
<rect x="692" y="308" width="1" height="81" fill="#32cd32"/>
<rect x="690" y="319" width="5" height="39" fill="#32cd32"/>
<rect x="700" y="350" width="1" height="11" fill="#ff0000"/>
<rect x="698" y="356" width="5" height="2" fill="#ff0000"/>
<rect x="708" y="333" width="1" height="53" fill="#ff0000"/>
<rect x="706" y="350" width="5" height="7" fill="#ff0000"/>
<rect x="707" y="351" width="3" height="5" fill="#ff4500"/>
<rect x="716" y="335" width="1" height="45" fill="#ff0000"/>
<rect x="714" y="345" width="5" height="6" fill="#ff0000"/>
<rect x="715" y="346" width="3" height="4" fill="#ff4500"/>
<rect x="724" y="320" width="1" height="37" fill="#32cd32"/>
<rect x="722" y="343" width="5" height="9" fill="#32cd32"/>
<rect x="732" y="310" width="1" height="57" fill="#ff0000"/>
<rect x="730" y="313" width="5" height="40" fill="#ff0000"/>
<rect x="731" y="314" width="3" height="38" fill="#ff4500"/>
<rect x="740" y="312" width="1" height="38" fill="#ff0000"/>
<rect x="738" y="312" width="5" height="2" fill="#ff0000"/>
<rect x="748" y="293" width="1" height="21" fill="#ff0000"/>
<rect x="746" y="297" width="5" height="16" fill="#ff0000"/>
<rect x="747" y="298" width="3" height="14" fill="#ff4500"/>
<rect x="756" y="289" width="1" height="25" fill="#32cd32"/>
<rect x="754" y="297" width="5" height="3" fill="#32cd32"/>
<rect x="764" y="276" width="1" height="28" fill="#ff0000"/>
<rect x="762" y="286" width="5" height="14" fill="#ff0000"/>
<rect x="763" y="287" width="3" height="12" fill="#ff4500"/>
<rect x="772" y="278" width="1" height="45" fill="#32cd32"/>
<rect x="770" y="285" width="5" height="23" fill="#32cd32"/>
<rect x="780" y="288" width="1" height="42" fill="#ff0000"/>
<rect x="778" y="305" width="5" height="3" fill="#ff0000"/>
<rect x="779" y="306" width="3" height="1" fill="#ff4500"/>
<rect x="788" y="297" width="1" height="71" fill="#32cd32"/>
<rect x="786" y="304" width="5" height="59" fill="#32cd32"/>
<rect x="796" y="360" width="1" height="8" fill="#32cd32"/>
<rect x="794" y="362" width="5" height="5" fill="#32cd32"/>
<rect x="804" y="355" width="1" height="37" fill="#ff0000"/>
<rect x="802" y="363" width="5" height="2" fill="#ff0000"/>
<rect x="812" y="349" width="1" height="26" fill="#32cd32"/>
<rect x="810" y="362" width="5" height="12" fill="#32cd32"/>
<rect x="820" y="369" width="1" height="35" fill="#32cd32"/>
<rect x="818" y="373" width="5" height="31" fill="#32cd32"/>
<rect x="828" y="396" width="1" height="42" fill="#32cd32"/>
<rect x="826" y="404" width="5" height="25" fill="#32cd32"/>
<rect x="836" y="365" width="1" height="68" fill="#ff0000"/>
<rect x="834" y="369" width="5" height="61" fill="#ff0000"/>
<rect x="835" y="370" width="3" height="59" fill="#ff4500"/>
<rect x="844" y="360" width="1" height="13" fill="#ff0000"/>
<rect x="842" y="363" width="5" height="6" fill="#ff0000"/>
<rect x="843" y="364" width="3" height="4" fill="#ff4500"/>
<rect x="852" y="321" width="1" height="50" fill="#ff0000"/>
<rect x="850" y="333" width="5" height="33" fill="#ff0000"/>
<rect x="851" y="334" width="3" height="31" fill="#ff4500"/>
<rect x="860" y="325" width="1" height="43" fill="#32cd32"/>
<rect x="858" y="333" width="5" height="20" fill="#32cd32"/>
<rect x="868" y="335" width="1" height="28" fill="#ff0000"/>
<rect x="866" y="338" width="5" height="15" fill="#ff0000"/>
<rect x="867" y="339" width="3" height="13" fill="#ff4500"/>
<rect x="876" y="322" width="1" height="22" fill="#ff0000"/>
<rect x="874" y="333" width="5" height="6" fill="#ff0000"/>
<rect x="875" y="334" width="3" height="4" fill="#ff4500"/>
<rect x="884" y="309" width="1" height="27" fill="#ff0000"/>
<rect x="882" y="326" width="5" height="6" fill="#ff0000"/>
<rect x="883" y="327" width="3" height="4" fill="#ff4500"/>
<rect x="892" y="320" width="1" height="7" fill="#ff0000"/>
<rect x="890" y="325" width="5" height="2" fill="#ff0000"/>
<rect x="900" y="300" width="1" height="51" fill="#ff0000"/>
<rect x="898" y="300" width="5" height="26" fill="#ff0000"/>
<rect x="899" y="301" width="3" height="24" fill="#ff4500"/>
<rect x="908" y="290" width="1" height="27" fill="#32cd32"/>
<rect x="906" y="300" width="5" height="13" fill="#32cd32"/>
<rect x="675" y="274" width="316" height="2" fill="#ff2020"/>
<rect x="686" y="331" width="304" height="2" fill="#96c800"/>
<rect x="691" y="386" width="296" height="2" fill="#2e86de"/>
</g>
<g clip-path="url(#cr)" shape-rendering="crispEdges">
<line x1="5" y1="467.5" x2="1154" y2="467.5" stroke="#c0c0c0" stroke-width="1" stroke-dasharray="3 3"/>
<line x1="5" y1="488.5" x2="1154" y2="488.5" stroke="#c0c0c0" stroke-width="1" stroke-dasharray="3 3"/>
<path d="M422 486.5h3M433 486.5h2M659 486.5h4M672 486.5h2M208 480.5h2M313 480.5h5M463 480.5h2M478 480.5h3M494 480.5h3M529 480.5h8M575 480.5h4M633 480.5h6M849 480.5h2M855 480.5h4M863 480.5h4M254 476.5h3M294 476.5h3M329 476.5h6M353 476.5h2M367 476.5h4M374 476.5h3M394 476.5h2M398 476.5h3M547 476.5h12M897 476.5h2M905 476.5h3M206 479.5h2M226 479.5h2M233 479.5h8M305 479.5h8M318 479.5h3M475 479.5h3M497 479.5h2M513 479.5h16M537 479.5h5M569 479.5h6M851 479.5h4M867 479.5h6M17 470.5h8M30 470.5h2M53 470.5h2M105 470.5h2M110 470.5h3M129 470.5h8M145 470.5h30M420 485.5h2M435 485.5h3M657 485.5h2M663 485.5h4M670 485.5h2M732 485.5h10M783 485.5h2M212 482.5h5M221 482.5h2M443 482.5h18M483 482.5h6M601 482.5h8M625 482.5h2M643 482.5h6M747 482.5h6M759 482.5h4M767 482.5h4M841 482.5h5M32 469.5h2M43 469.5h10M107 469.5h3M175 469.5h4M60 475.5h2M257 475.5h2M289 475.5h5M355 475.5h12M377 475.5h2M392 475.5h2M401 475.5h2M409 475.5h4M899 475.5h6M683 491.5h4M713 491.5h12M823 491.5h4M210 481.5h2M223 481.5h2M461 481.5h2M481 481.5h2M489 481.5h5M579 481.5h22M627 481.5h6M639 481.5h4M763 481.5h4M846 481.5h3M859 481.5h4M34 468.5h2M39 468.5h4M179 468.5h14M9 471.5h8M25 471.5h5M102 471.5h3M113 471.5h2M121 471.5h8M137 471.5h8M204 478.5h2M228 478.5h5M241 478.5h8M299 478.5h6M321 478.5h2M339 478.5h11M466 478.5h2M471 478.5h4M499 478.5h14M542 478.5h3M563 478.5h6M873 478.5h21M62 474.5h3M89 474.5h6M259 474.5h12M283 474.5h6M379 474.5h6M390 474.5h2M403 474.5h6M57 473.5h2M65 473.5h2M81 473.5h8M95 473.5h4M271 473.5h4M279 473.5h4M385 473.5h5M217 483.5h4M441 483.5h2M609 483.5h8M622 483.5h3M649 483.5h5M745 483.5h2M753 483.5h6M771 483.5h10M836 483.5h5M4 472.5h5M67 472.5h14M99 472.5h3M115 472.5h6M275 472.5h4M687 492.5h4M705 492.5h8M827 492.5h2M249 477.5h5M297 477.5h2M323 477.5h6M335 477.5h4M350 477.5h3M371 477.5h3M396 477.5h2M468 477.5h3M545 477.5h2M559 477.5h4M894 477.5h3M425 487.5h2M430 487.5h3M674 487.5h2M729 487.5h2M786 487.5h2M801 487.5h8M427 488.5h3M676 488.5h2M788 488.5h13M809 488.5h6M681 490.5h2M725 490.5h2M819 490.5h4M438 484.5h3M617 484.5h5M654 484.5h3M667 484.5h3M742 484.5h3M781 484.5h2M691 493.5h14M36 467.5h3M193 467.5h4M678 489.5h3M815 489.5h4M731.5 486v1M785.5 486v1M833.5 486v1M225.5 480v1M416.5 480v1M203.5 476v2M413.5 476v1M415.5 479v1M465.5 479v1M198.5 470v1M834.5 485v1M418.5 482v2M197.5 468v2M202.5 475v1M829.5 491v1M417.5 481v1M55.5 471v1M199.5 471v1M414.5 477v2M59.5 474v1M201.5 474v1M200.5 472v2M56.5 472v1M832.5 487v2M728.5 488v1M830.5 490v1M419.5 484v1M835.5 484v1M727.5 489v1M831.5 489v1" fill="none" stroke="#1e90ff" stroke-width="1"/>
</g>
<g clip-path="url(#cd)" shape-rendering="crispEdges">
<rect x="3" y="529" width="3" height="20" fill="#c0c0c0"/>
<rect x="11" y="527" width="3" height="22" fill="#c0c0c0"/>
<rect x="19" y="525" width="3" height="24" fill="#c0c0c0"/>
<rect x="27" y="525" width="3" height="24" fill="#c0c0c0"/>
<rect x="35" y="520" width="3" height="29" fill="#c0c0c0"/>
<rect x="43" y="518" width="3" height="31" fill="#c0c0c0"/>
<rect x="51" y="518" width="3" height="31" fill="#c0c0c0"/>
<rect x="59" y="522" width="3" height="27" fill="#c0c0c0"/>
<rect x="67" y="521" width="3" height="28" fill="#c0c0c0"/>
<rect x="75" y="519" width="3" height="30" fill="#c0c0c0"/>
<rect x="83" y="520" width="3" height="29" fill="#c0c0c0"/>
<rect x="91" y="521" width="3" height="28" fill="#c0c0c0"/>
<rect x="99" y="521" width="3" height="28" fill="#c0c0c0"/>
<rect x="107" y="519" width="3" height="30" fill="#c0c0c0"/>
<rect x="115" y="519" width="3" height="30" fill="#c0c0c0"/>
<rect x="123" y="519" width="3" height="30" fill="#c0c0c0"/>
<rect x="131" y="518" width="3" height="31" fill="#c0c0c0"/>
<rect x="139" y="517" width="3" height="32" fill="#c0c0c0"/>
<rect x="147" y="517" width="3" height="32" fill="#c0c0c0"/>
<rect x="155" y="516" width="3" height="33" fill="#c0c0c0"/>
<rect x="163" y="515" width="3" height="34" fill="#c0c0c0"/>
<rect x="171" y="515" width="3" height="34" fill="#c0c0c0"/>
<rect x="179" y="515" width="3" height="34" fill="#c0c0c0"/>
<rect x="187" y="514" width="3" height="35" fill="#c0c0c0"/>
<rect x="195" y="513" width="3" height="36" fill="#c0c0c0"/>
<rect x="203" y="519" width="3" height="30" fill="#c0c0c0"/>
<rect x="211" y="529" width="3" height="20" fill="#c0c0c0"/>
<rect x="219" y="537" width="3" height="12" fill="#c0c0c0"/>
<rect x="227" y="539" width="3" height="10" fill="#c0c0c0"/>
<rect x="235" y="542" width="3" height="7" fill="#c0c0c0"/>
<rect x="243" y="544" width="3" height="5" fill="#c0c0c0"/>
<rect x="251" y="544" width="3" height="5" fill="#c0c0c0"/>
<rect x="259" y="541" width="3" height="8" fill="#c0c0c0"/>
<rect x="267" y="540" width="3" height="9" fill="#c0c0c0"/>
<rect x="275" y="536" width="3" height="13" fill="#c0c0c0"/>
<rect x="283" y="536" width="3" height="13" fill="#c0c0c0"/>
<rect x="291" y="536" width="3" height="13" fill="#c0c0c0"/>
<rect x="299" y="538" width="3" height="11" fill="#c0c0c0"/>
<rect x="307" y="541" width="3" height="8" fill="#c0c0c0"/>
<rect x="315" y="544" width="3" height="5" fill="#c0c0c0"/>
<rect x="323" y="545" width="3" height="4" fill="#c0c0c0"/>
<rect x="331" y="544" width="3" height="5" fill="#c0c0c0"/>
<rect x="339" y="546" width="3" height="3" fill="#c0c0c0"/>
<rect x="347" y="547" width="3" height="2" fill="#c0c0c0"/>
<rect x="355" y="545" width="3" height="4" fill="#c0c0c0"/>
<rect x="363" y="544" width="3" height="5" fill="#c0c0c0"/>
<rect x="371" y="544" width="3" height="5" fill="#c0c0c0"/>
<rect x="379" y="542" width="3" height="7" fill="#c0c0c0"/>
<rect x="387" y="541" width="3" height="8" fill="#c0c0c0"/>
<rect x="395" y="542" width="3" height="7" fill="#c0c0c0"/>
<rect x="403" y="540" width="3" height="9" fill="#c0c0c0"/>
<rect x="411" y="540" width="3" height="9" fill="#c0c0c0"/>
<rect x="419" y="549" width="3" height="1" fill="#c0c0c0"/>
<rect x="427" y="549" width="3" height="13" fill="#c0c0c0"/>
<rect x="435" y="549" width="3" height="20" fill="#c0c0c0"/>
<rect x="443" y="549" width="3" height="22" fill="#c0c0c0"/>
<rect x="451" y="549" width="3" height="24" fill="#c0c0c0"/>
<rect x="459" y="549" width="3" height="25" fill="#c0c0c0"/>
<rect x="467" y="549" width="3" height="21" fill="#c0c0c0"/>
<rect x="475" y="549" width="3" height="19" fill="#c0c0c0"/>
<rect x="483" y="549" width="3" height="22" fill="#c0c0c0"/>
<rect x="491" y="549" width="3" height="22" fill="#c0c0c0"/>
<rect x="499" y="549" width="3" height="20" fill="#c0c0c0"/>
<rect x="507" y="549" width="3" height="18" fill="#c0c0c0"/>
<rect x="515" y="549" width="3" height="16" fill="#c0c0c0"/>
<rect x="523" y="549" width="3" height="15" fill="#c0c0c0"/>
<rect x="531" y="549" width="3" height="15" fill="#c0c0c0"/>
<rect x="539" y="549" width="3" height="14" fill="#c0c0c0"/>
<rect x="547" y="549" width="3" height="11" fill="#c0c0c0"/>
<rect x="555" y="549" width="3" height="8" fill="#c0c0c0"/>
<rect x="563" y="549" width="3" height="7" fill="#c0c0c0"/>
<rect x="571" y="549" width="3" height="7" fill="#c0c0c0"/>
<rect x="579" y="549" width="3" height="9" fill="#c0c0c0"/>
<rect x="587" y="549" width="3" height="10" fill="#c0c0c0"/>
<rect x="595" y="549" width="3" height="12" fill="#c0c0c0"/>
<rect x="603" y="549" width="3" height="13" fill="#c0c0c0"/>
<rect x="611" y="549" width="3" height="15" fill="#c0c0c0"/>
<rect x="619" y="549" width="3" height="17" fill="#c0c0c0"/>
<rect x="627" y="549" width="3" height="17" fill="#c0c0c0"/>
<rect x="635" y="549" width="3" height="16" fill="#c0c0c0"/>
<rect x="643" y="549" width="3" height="17" fill="#c0c0c0"/>
<rect x="651" y="549" width="3" height="18" fill="#c0c0c0"/>
<rect x="659" y="549" width="3" height="21" fill="#c0c0c0"/>
<rect x="667" y="549" width="3" height="22" fill="#c0c0c0"/>
<rect x="675" y="549" width="3" height="28" fill="#c0c0c0"/>
<rect x="683" y="549" width="3" height="36" fill="#c0c0c0"/>
<rect x="691" y="549" width="3" height="46" fill="#c0c0c0"/>
<rect x="699" y="549" width="3" height="53" fill="#c0c0c0"/>
<rect x="707" y="549" width="3" height="58" fill="#c0c0c0"/>
<rect x="715" y="549" width="3" height="60" fill="#c0c0c0"/>
<rect x="723" y="549" width="3" height="62" fill="#c0c0c0"/>
<rect x="731" y="549" width="3" height="59" fill="#c0c0c0"/>
<rect x="739" y="549" width="3" height="55" fill="#c0c0c0"/>
<rect x="747" y="549" width="3" height="51" fill="#c0c0c0"/>
<rect x="755" y="549" width="3" height="47" fill="#c0c0c0"/>
<rect x="763" y="549" width="3" height="42" fill="#c0c0c0"/>
<rect x="771" y="549" width="3" height="40" fill="#c0c0c0"/>
<rect x="779" y="549" width="3" height="37" fill="#c0c0c0"/>
<rect x="787" y="549" width="3" height="41" fill="#c0c0c0"/>
<rect x="795" y="549" width="3" height="43" fill="#c0c0c0"/>
<rect x="803" y="549" width="3" height="44" fill="#c0c0c0"/>
<rect x="811" y="549" width="3" height="46" fill="#c0c0c0"/>
<rect x="819" y="549" width="3" height="49" fill="#c0c0c0"/>
<rect x="827" y="549" width="3" height="54" fill="#c0c0c0"/>
<rect x="835" y="549" width="3" height="51" fill="#c0c0c0"/>
<rect x="843" y="549" width="3" height="48" fill="#c0c0c0"/>
<rect x="851" y="549" width="3" height="42" fill="#c0c0c0"/>
<rect x="859" y="549" width="3" height="39" fill="#c0c0c0"/>
<rect x="867" y="549" width="3" height="34" fill="#c0c0c0"/>
<rect x="875" y="549" width="3" height="30" fill="#c0c0c0"/>
<rect x="883" y="549" width="3" height="25" fill="#c0c0c0"/>
<rect x="891" y="549" width="3" height="21" fill="#c0c0c0"/>
<rect x="899" y="549" width="3" height="16" fill="#c0c0c0"/>
<rect x="907" y="549" width="3" height="12" fill="#c0c0c0"/>
<path d="M465 559.5h2M577 559.5h16M617 559.5h8M353 543.5h8M401 543.5h22M482 566.5h2M531 566.5h12M671 566.5h4M473 562.5h2M559 562.5h4M641 562.5h8M19 529.5h6M247 529.5h4M462 558.5h3M593 558.5h24M694 574.5h2M497 570.5h8M686 570.5h2M65 522.5h8M227 522.5h3M83 519.5h30M219 519.5h3M467 560.5h3M569 560.5h8M625 560.5h8M361 544.5h16M385 544.5h16M423 544.5h4M491 569.5h6M505 569.5h16M683 569.5h3M137 517.5h24M211 517.5h4M281 540.5h56M345 542.5h8M475 563.5h3M553 563.5h6M649 563.5h8M732 594.5h2M795 594.5h4M841 594.5h8M857 594.5h8M470 561.5h3M563 561.5h6M633 561.5h8M177 515.5h30M51 524.5h6M233 524.5h2M484 567.5h3M527 567.5h4M675 567.5h4M487 568.5h4M521 568.5h6M679 568.5h4M161 516.5h16M207 516.5h4M690 572.5h2M730 593.5h2M799 593.5h4M833 593.5h8M865 593.5h8M478 564.5h2M547 564.5h6M657 564.5h8M704 579.5h2M905 579.5h2M753 602.5h14M25 528.5h8M243 528.5h4M113 518.5h24M215 518.5h4M258 533.5h2M275 539.5h6M435 548.5h4M337 541.5h8M33 527.5h8M241 527.5h2M260 534.5h3M700 577.5h2M377 545.5h8M427 545.5h3M692 573.5h2M57 523.5h8M230 523.5h3M9 531.5h6M254 531.5h2M726 591.5h2M809 591.5h16M878 591.5h3M430 546.5h3M47 525.5h4M235 525.5h3M722 589.5h2M883 589.5h3M728 592.5h2M803 592.5h6M825 592.5h8M873 592.5h5M480 565.5h2M543 565.5h4M665 565.5h6M696 575.5h2M688 571.5h2M41 526.5h6M238 526.5h3M734 595.5h2M791 595.5h4M849 595.5h8M738 597.5h2M783 597.5h4M706 580.5h2M902 580.5h3M79 520.5h4M222 520.5h3M263 535.5h4M4 532.5h5M256 532.5h2M267 536.5h3M745 600.5h2M771 600.5h4M439 549.5h4M454 555.5h3M740 598.5h2M779 598.5h4M457 556.5h2M448 552.5h2M709 582.5h2M898 582.5h2M450 553.5h2M443 550.5h3M452 554.5h2M747 601.5h6M767 601.5h4M446 551.5h2M736 596.5h2M787 596.5h4M459 557.5h3M894 584.5h2M718 587.5h2M888 587.5h2M73 521.5h6M225 521.5h2M900 581.5h2M711 583.5h2M896 583.5h2M714 585.5h2M892 585.5h2M724 590.5h2M881 590.5h2M742 599.5h3M775 599.5h4M15 530.5h4M251 530.5h3M433 547.5h2M698 576.5h2M702 578.5h2M270 537.5h3M273 538.5h2M720 588.5h2M886 588.5h2M716 586.5h2M890 586.5h2M713.5 584v1M708.5 581v1M907.5 578v1" fill="none" stroke="#ff0000" stroke-width="1"/>
</g>
<path d="M7 40 L14 40 L10.5 44 Z" fill="#000"/>
</svg>
<span class="t" style="left:3.2px;top:13.64px;font-size:10.0px;line-height:10.0px;color:#303030;text-rendering:geometricPrecision;transform:scaleX(0.9700);transform-origin:0 0;letter-spacing:0.16px;-webkit-text-stroke:0.1px;">M30</span>
<span class="t" style="left:34.2px;top:13.64px;font-size:10.0px;line-height:10.0px;color:#303030;text-rendering:geometricPrecision;transform:scaleX(0.9700);transform-origin:0 0;letter-spacing:0.16px;-webkit-text-stroke:0.1px;">H1</span>
<span class="t" style="left:61.2px;top:13.64px;font-size:10.0px;line-height:10.0px;color:#303030;text-rendering:geometricPrecision;transform:scaleX(0.9700);transform-origin:0 0;letter-spacing:0.16px;-webkit-text-stroke:0.1px;">H4</span>
<span class="t" style="left:89.7px;top:13.64px;font-size:10.0px;line-height:10.0px;color:#303030;text-rendering:geometricPrecision;transform:scaleX(0.9700);transform-origin:0 0;letter-spacing:0.16px;-webkit-text-stroke:0.1px;">D1</span>
<span class="t" style="left:118.2px;top:13.64px;font-size:10.0px;line-height:10.0px;color:#303030;text-rendering:geometricPrecision;transform:scaleX(0.9700);transform-origin:0 0;letter-spacing:0.16px;-webkit-text-stroke:0.1px;">W1</span>
<span class="t" style="left:144.2px;top:13.64px;font-size:10.0px;line-height:10.0px;color:#303030;text-rendering:geometricPrecision;transform:scaleX(0.9700);transform-origin:0 0;letter-spacing:0.16px;-webkit-text-stroke:0.1px;">MN</span>
<span class="t" style="left:18.8px;top:37.63px;font-size:10.0px;line-height:10.0px;color:#000;text-rendering:geometricPrecision;transform:scaleX(0.9730);transform-origin:0 0;">USDCNH,Daily</span>
<span class="t" style="left:90.6px;top:37.63px;font-size:10.0px;line-height:10.0px;color:#000;text-rendering:geometricPrecision;transform:scaleX(0.9200);transform-origin:0 0;">6.80002</span>
<span class="t" style="left:126.7px;top:37.63px;font-size:10.0px;line-height:10.0px;color:#000;text-rendering:geometricPrecision;transform:scaleX(0.9200);transform-origin:0 0;">6.80782</span>
<span class="t" style="left:162.5px;top:37.63px;font-size:10.0px;line-height:10.0px;color:#000;text-rendering:geometricPrecision;transform:scaleX(0.9200);transform-origin:0 0;">6.78887</span>
<span class="t" style="left:198.5px;top:37.63px;font-size:10.0px;line-height:10.0px;color:#000;text-rendering:geometricPrecision;transform:scaleX(0.9200);transform-origin:0 0;">6.79127</span>
<span class="t" style="left:1159.7px;top:44.63px;font-size:10.0px;line-height:10.0px;color:#000;text-rendering:geometricPrecision;transform:scaleX(0.9200);transform-origin:0 0;">6.98360</span>
<span class="t" style="left:1159.7px;top:77.63px;font-size:10.0px;line-height:10.0px;color:#000;text-rendering:geometricPrecision;transform:scaleX(0.9200);transform-origin:0 0;">6.95980</span>
<span class="t" style="left:1159.7px;top:110.63px;font-size:10.0px;line-height:10.0px;color:#000;text-rendering:geometricPrecision;transform:scaleX(0.9200);transform-origin:0 0;">6.93530</span>
<span class="t" style="left:1159.7px;top:143.64px;font-size:10.0px;line-height:10.0px;color:#000;text-rendering:geometricPrecision;transform:scaleX(0.9200);transform-origin:0 0;">6.91150</span>
<span class="t" style="left:1159.7px;top:176.64px;font-size:10.0px;line-height:10.0px;color:#000;text-rendering:geometricPrecision;transform:scaleX(0.9200);transform-origin:0 0;">6.88770</span>
<span class="t" style="left:1159.7px;top:209.64px;font-size:10.0px;line-height:10.0px;color:#000;text-rendering:geometricPrecision;transform:scaleX(0.9200);transform-origin:0 0;">6.86320</span>
<span class="t" style="left:1159.7px;top:242.64px;font-size:10.0px;line-height:10.0px;color:#000;text-rendering:geometricPrecision;transform:scaleX(0.9200);transform-origin:0 0;">6.83940</span>
<span class="t" style="left:1159.7px;top:275.64px;font-size:10.0px;line-height:10.0px;color:#000;text-rendering:geometricPrecision;transform:scaleX(0.9200);transform-origin:0 0;">6.81560</span>
<span class="t" style="left:1159.7px;top:341.64px;font-size:10.0px;line-height:10.0px;color:#000;text-rendering:geometricPrecision;transform:scaleX(0.9200);transform-origin:0 0;">6.76730</span>
<span class="t" style="left:1159.7px;top:374.64px;font-size:10.0px;line-height:10.0px;color:#000;text-rendering:geometricPrecision;transform:scaleX(0.9200);transform-origin:0 0;">6.74350</span>
<span class="t" style="left:1159.7px;top:408.64px;font-size:10.0px;line-height:10.0px;color:#000;text-rendering:geometricPrecision;transform:scaleX(0.9200);transform-origin:0 0;">6.71970</span>
<span class="t" style="left:1159.7px;top:441.64px;font-size:10.0px;line-height:10.0px;color:#000;text-rendering:geometricPrecision;transform:scaleX(0.9200);transform-origin:0 0;">6.69590</span>
<span class="t" style="left:1159.7px;top:308.64px;font-size:10.0px;line-height:10.0px;color:#fff;text-rendering:geometricPrecision;transform:scaleX(0.9200);transform-origin:0 0;">6.79127</span>
<span class="t" style="left:1158px;top:452.84px;font-size:10.0px;line-height:10.0px;color:#000;text-rendering:geometricPrecision;transform:scaleX(0.9200);transform-origin:0 0;">100</span>
<span class="t" style="left:1158px;top:463.64px;font-size:10.0px;line-height:10.0px;color:#000;text-rendering:geometricPrecision;transform:scaleX(0.9200);transform-origin:0 0;">70</span>
<span class="t" style="left:1158px;top:484.64px;font-size:10.0px;line-height:10.0px;color:#000;text-rendering:geometricPrecision;transform:scaleX(0.9200);transform-origin:0 0;">30</span>
<span class="t" style="left:1158px;top:494.84px;font-size:10.0px;line-height:10.0px;color:#000;text-rendering:geometricPrecision;transform:scaleX(0.9200);transform-origin:0 0;">0</span>
<span class="t" style="left:1158px;top:510.34px;font-size:10.0px;line-height:10.0px;color:#000;text-rendering:geometricPrecision;transform:scaleX(0.9200);transform-origin:0 0;">0.023534</span>
<span class="t" style="left:1158px;top:545.33px;font-size:10.0px;line-height:10.0px;color:#000;text-rendering:geometricPrecision;transform:scaleX(0.9200);transform-origin:0 0;">0.00</span>
<span class="t" style="left:1157.5px;top:604.33px;font-size:10.0px;line-height:10.0px;color:#000;text-rendering:geometricPrecision;transform:scaleX(0.9200);transform-origin:0 0;">-0.038466</span>
<span class="t" style="left:8px;top:454.84px;font-size:10.0px;line-height:10.0px;color:#000;text-rendering:geometricPrecision;transform:scaleX(0.9400);transform-origin:0 0;letter-spacing:-0.06px;">RSI(14) 52.1228</span>
<span class="t" style="left:8px;top:513.33px;font-size:10.0px;line-height:10.0px;color:#000;text-rendering:geometricPrecision;transform:scaleX(0.9400);transform-origin:0 0;letter-spacing:-0.04px;">MACD(12,26,9) -0.006756 -0.016955</span>
<span class="t" style="left:3px;top:620.63px;font-size:10.0px;line-height:10.0px;color:#000;text-rendering:geometricPrecision;transform:scaleX(0.9400);transform-origin:0 0;letter-spacing:0px;">3 Oct 2018</span>
<span class="t" style="left:67px;top:620.63px;font-size:10.0px;line-height:10.0px;color:#000;text-rendering:geometricPrecision;transform:scaleX(0.9400);transform-origin:0 0;letter-spacing:0px;">12 Oct 2018</span>
<span class="t" style="left:131px;top:620.63px;font-size:10.0px;line-height:10.0px;color:#000;text-rendering:geometricPrecision;transform:scaleX(0.9400);transform-origin:0 0;letter-spacing:0px;">22 Oct 2018</span>
<span class="t" style="left:195px;top:620.63px;font-size:10.0px;line-height:10.0px;color:#000;text-rendering:geometricPrecision;transform:scaleX(0.9400);transform-origin:0 0;letter-spacing:0px;">31 Oct 2018</span>
<span class="t" style="left:259px;top:620.63px;font-size:10.0px;line-height:10.0px;color:#000;text-rendering:geometricPrecision;transform:scaleX(0.9400);transform-origin:0 0;letter-spacing:0.05px;">9 Nov 2018</span>
<span class="t" style="left:323px;top:620.63px;font-size:10.0px;line-height:10.0px;color:#000;text-rendering:geometricPrecision;transform:scaleX(0.9400);transform-origin:0 0;letter-spacing:0.05px;">19 Nov 2018</span>
<span class="t" style="left:387px;top:620.63px;font-size:10.0px;line-height:10.0px;color:#000;text-rendering:geometricPrecision;transform:scaleX(0.9400);transform-origin:0 0;letter-spacing:0.05px;">28 Nov 2018</span>
<span class="t" style="left:451px;top:620.63px;font-size:10.0px;line-height:10.0px;color:#000;text-rendering:geometricPrecision;transform:scaleX(0.9400);transform-origin:0 0;letter-spacing:-0.1px;">7 Dec 2018</span>
<span class="t" style="left:515px;top:620.63px;font-size:10.0px;line-height:10.0px;color:#000;text-rendering:geometricPrecision;transform:scaleX(0.9400);transform-origin:0 0;letter-spacing:-0.1px;">17 Dec 2018</span>
<span class="t" style="left:579px;top:620.63px;font-size:10.0px;line-height:10.0px;color:#000;text-rendering:geometricPrecision;transform:scaleX(0.9400);transform-origin:0 0;letter-spacing:-0.1px;">26 Dec 2018</span>
<span class="t" style="left:643px;top:620.63px;font-size:10.0px;line-height:10.0px;color:#000;text-rendering:geometricPrecision;transform:scaleX(0.9400);transform-origin:0 0;letter-spacing:-0.2px;">4 Jan 2019</span>
<span class="t" style="left:707px;top:620.63px;font-size:10.0px;line-height:10.0px;color:#000;text-rendering:geometricPrecision;transform:scaleX(0.9400);transform-origin:0 0;letter-spacing:-0.2px;">14 Jan 2019</span>
<span class="t" style="left:771px;top:620.63px;font-size:10.0px;line-height:10.0px;color:#000;text-rendering:geometricPrecision;transform:scaleX(0.9400);transform-origin:0 0;letter-spacing:-0.2px;">23 Jan 2019</span>
<span class="t" style="left:835px;top:620.63px;font-size:10.0px;line-height:10.0px;color:#000;text-rendering:geometricPrecision;transform:scaleX(0.9400);transform-origin:0 0;letter-spacing:-0.07px;">1 Feb 2019</span>
<span class="t" style="left:899px;top:620.63px;font-size:10.0px;line-height:10.0px;color:#000;text-rendering:geometricPrecision;transform:scaleX(0.9400);transform-origin:0 0;letter-spacing:-0.07px;">11 Feb 2019</span>
<span class="t" style="left:17px;top:642.84px;font-size:12px;line-height:12px;color:#808080;-webkit-text-stroke:0.1px;letter-spacing:-0.1px;">EURUSD,H4</span>
<span class="t" style="left:108px;top:642.84px;font-size:12px;line-height:12px;color:#808080;-webkit-text-stroke:0.1px;letter-spacing:0.14px;">AUDUSD,Daily</span>
<span class="t" style="left:211px;top:642.84px;font-size:12px;line-height:12px;color:#808080;-webkit-text-stroke:0.1px;letter-spacing:0.07px;">USDCHF,Daily</span>
<span class="t" style="left:312px;top:642.84px;font-size:12px;line-height:12px;color:#808080;-webkit-text-stroke:0.1px;letter-spacing:0.1px;">USDCAD,Daily</span>
<span class="t" style="left:415.5px;top:642.84px;font-size:12px;line-height:12px;color:#000;-webkit-text-stroke:0.1px;letter-spacing:0px;">USDCNH,Daily</span>
<span class="t" style="left:519px;top:642.84px;font-size:12px;line-height:12px;color:#808080;-webkit-text-stroke:0.1px;letter-spacing:0px;">USDJPY,Daily</span>
<span class="t" style="left:616px;top:642.84px;font-size:12px;line-height:12px;color:#808080;-webkit-text-stroke:0.1px;letter-spacing:0.1px;">XAUUSD,H1</span>
<span class="t" style="left:707.5px;top:642.84px;font-size:12px;line-height:12px;color:#808080;-webkit-text-stroke:0.1px;letter-spacing:0.23px;">GBPUSD,Weekly</span>
<span class="t" style="left:825px;top:642.84px;font-size:12px;line-height:12px;color:#808080;-webkit-text-stroke:0.1px;letter-spacing:0.25px;">SP500,M15</span>
<span class="t" style="left:913px;top:642.84px;font-size:12px;line-height:12px;color:#808080;-webkit-text-stroke:0.1px;letter-spacing:0px;">GBPUSD,Daily</span>
<span class="t" style="left:1015.5px;top:642.84px;font-size:12px;line-height:12px;color:#808080;-webkit-text-stroke:0.1px;letter-spacing:0px;">DJ30,H4</span>
<span class="t" style="left:1083.5px;top:642.84px;font-size:12px;line-height:12px;color:#808080;-webkit-text-stroke:0.1px;letter-spacing:-0.05px;">TECH100,H1</span>
</body></html>
